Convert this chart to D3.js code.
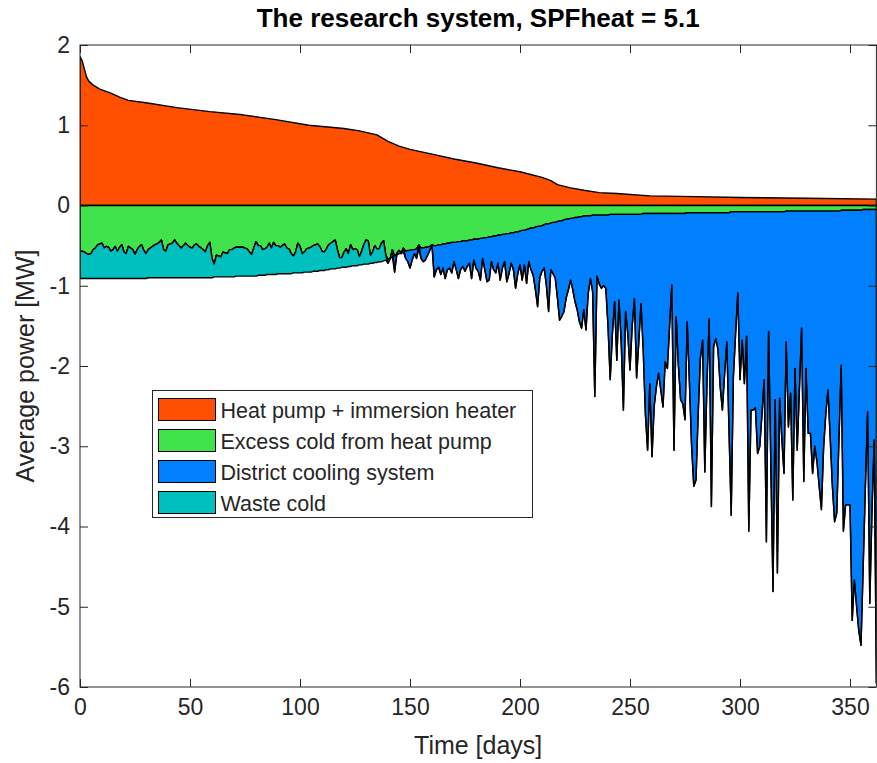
<!DOCTYPE html>
<html>
<head>
<meta charset="utf-8">
<script src="https://cdn.jsdelivr.net/npm/d3@7/dist/d3.min.js"></script>
<style>
	body { margin: 0; background: #fff; }
	text { font-family: "Liberation Sans", Arial, Helvetica, sans-serif; }
</style>
</head>
<body>
<div id="chart01"></div>
<script>
// heat pump + immersion heater (positive, smooth duration curve)
const heatDays = [0, 1, 2, 3, 4, 6, 9, 14, 18, 22, 30, 44, 59, 74, 89, 104, 120, 127, 135, 140, 145, 150, 160, 170, 180, 190, 200, 210, 214, 217, 223, 229, 236, 244, 259, 280, 300, 330, 362];
const heatPower = [1.86, 1.80, 1.70, 1.60, 1.55, 1.50, 1.45, 1.40, 1.35, 1.31, 1.28, 1.22, 1.17, 1.13, 1.07, 1.00, 0.96, 0.93, 0.88, 0.80, 0.74, 0.70, 0.64, 0.58, 0.53, 0.47, 0.42, 0.35, 0.31, 0.26, 0.22, 0.19, 0.16, 0.15, 0.12, 0.11, 0.10, 0.09, 0.08];

// cold delivered by the heat pump, one value per day (MW)
const excessAvailable = [
	0.91, 0.91, 0.91, 0.91, 0.91, 0.91, 0.91, 0.91, 0.91, 0.91,
	0.91, 0.91, 0.91, 0.91, 0.91, 0.91, 0.91, 0.91, 0.91, 0.91,
	0.91, 0.91, 0.91, 0.91, 0.91, 0.91, 0.91, 0.91, 0.91, 0.91,
	0.91, 0.90, 0.90, 0.90, 0.90, 0.90, 0.90, 0.90, 0.90, 0.90,
	0.90, 0.90, 0.90, 0.90, 0.90, 0.90, 0.90, 0.90, 0.90, 0.90,
	0.90, 0.90, 0.90, 0.90, 0.90, 0.90, 0.90, 0.90, 0.90, 0.90,
	0.90, 0.89, 0.89, 0.89, 0.89, 0.89, 0.89, 0.89, 0.89, 0.89,
	0.89, 0.88, 0.88, 0.88, 0.88, 0.88, 0.88, 0.88, 0.88, 0.88,
	0.88, 0.87, 0.87, 0.87, 0.87, 0.86, 0.86, 0.86, 0.86, 0.86,
	0.85, 0.85, 0.85, 0.85, 0.85, 0.85, 0.85, 0.84, 0.84, 0.84,
	0.84, 0.84, 0.83, 0.83, 0.83, 0.83, 0.82, 0.82, 0.82, 0.81,
	0.81, 0.81, 0.80, 0.80, 0.79, 0.79, 0.79, 0.78, 0.78, 0.77,
	0.77, 0.77, 0.76, 0.76, 0.75, 0.75, 0.75, 0.74, 0.74, 0.73,
	0.73, 0.73, 0.72, 0.72, 0.71, 0.71, 0.70, 0.70, 0.69, 0.68,
	0.67, 0.66, 0.64, 0.63, 0.62, 0.60, 0.59, 0.58, 0.57, 0.56,
	0.56, 0.55, 0.55, 0.54, 0.54, 0.53, 0.53, 0.52, 0.52, 0.51,
	0.51, 0.50, 0.50, 0.49, 0.49, 0.48, 0.48, 0.47, 0.47, 0.46,
	0.46, 0.46, 0.45, 0.45, 0.44, 0.44, 0.44, 0.43, 0.43, 0.42,
	0.42, 0.42, 0.41, 0.41, 0.40, 0.40, 0.39, 0.39, 0.38, 0.38,
	0.37, 0.37, 0.36, 0.36, 0.35, 0.35, 0.34, 0.34, 0.33, 0.33,
	0.32, 0.31, 0.31, 0.30, 0.29, 0.28, 0.28, 0.27, 0.26, 0.26,
	0.25, 0.24, 0.23, 0.23, 0.22, 0.21, 0.21, 0.20, 0.19, 0.19,
	0.18, 0.17, 0.17, 0.16, 0.16, 0.15, 0.15, 0.14, 0.14, 0.13,
	0.13, 0.13, 0.13, 0.12, 0.12, 0.12, 0.12, 0.12, 0.12, 0.12,
	0.12, 0.11, 0.11, 0.11, 0.11, 0.11, 0.11, 0.11, 0.11, 0.11,
	0.11, 0.11, 0.11, 0.11, 0.11, 0.11, 0.10, 0.10, 0.10, 0.10,
	0.10, 0.10, 0.10, 0.10, 0.10, 0.10, 0.10, 0.10, 0.10, 0.10,
	0.10, 0.10, 0.10, 0.10, 0.10, 0.10, 0.09, 0.09, 0.09, 0.09,
	0.09, 0.09, 0.09, 0.09, 0.09, 0.09, 0.09, 0.09, 0.09, 0.09,
	0.09, 0.09, 0.09, 0.09, 0.09, 0.09, 0.08, 0.08, 0.08, 0.08,
	0.08, 0.08, 0.08, 0.08, 0.08, 0.08, 0.08, 0.08, 0.08, 0.08,
	0.08, 0.08, 0.08, 0.08, 0.08, 0.08, 0.08, 0.08, 0.08, 0.08,
	0.08, 0.07, 0.07, 0.07, 0.07, 0.07, 0.07, 0.07, 0.07, 0.07,
	0.07, 0.07, 0.07, 0.07, 0.07, 0.07, 0.07, 0.07, 0.07, 0.07,
	0.07, 0.07, 0.07, 0.07, 0.07, 0.07, 0.06, 0.06, 0.06, 0.06,
	0.06, 0.06, 0.06, 0.06, 0.06, 0.06, 0.05, 0.05, 0.05, 0.05,
	0.05, 0.05, 0.05
];

// cooling demand, one value per day (MW)
const coolingDemand = [
	0.57, 0.57, 0.58, 0.60, 0.61, 0.60, 0.55, 0.53, 0.49, 0.48,
	0.47, 0.53, 0.51, 0.52, 0.57, 0.55, 0.51, 0.57, 0.52, 0.49,
	0.58, 0.60, 0.51, 0.53, 0.55, 0.61, 0.55, 0.51, 0.49, 0.56,
	0.60, 0.55, 0.53, 0.51, 0.49, 0.48, 0.46, 0.43, 0.55, 0.57,
	0.49, 0.48, 0.47, 0.43, 0.47, 0.50, 0.53, 0.50, 0.47, 0.50,
	0.52, 0.53, 0.49, 0.48, 0.51, 0.53, 0.55, 0.58, 0.50, 0.46,
	0.66, 0.73, 0.62, 0.63, 0.64, 0.58, 0.59, 0.60, 0.55, 0.55,
	0.53, 0.52, 0.52, 0.52, 0.52, 0.53, 0.54, 0.58, 0.61, 0.53,
	0.45, 0.50, 0.50, 0.55, 0.54, 0.52, 0.47, 0.53, 0.46, 0.50,
	0.50, 0.52, 0.50, 0.48, 0.53, 0.54, 0.60, 0.63, 0.58, 0.47,
	0.51, 0.60, 0.58, 0.54, 0.53, 0.52, 0.50, 0.49, 0.48, 0.51,
	0.57, 0.58, 0.54, 0.49, 0.47, 0.45, 0.43, 0.55, 0.65, 0.65,
	0.58, 0.54, 0.60, 0.49, 0.55, 0.54, 0.55, 0.64, 0.57, 0.49,
	0.43, 0.44, 0.62, 0.58, 0.50, 0.54, 0.54, 0.47, 0.44, 0.62,
	0.72, 0.66, 0.55, 0.83, 0.60, 0.56, 0.60, 0.53, 0.66, 0.70,
	0.78, 0.68, 0.60, 0.66, 0.49, 0.66, 0.70, 0.68, 0.62, 0.56,
	0.49, 0.89, 0.80, 0.77, 0.86, 0.78, 0.91, 0.80, 0.78, 0.84,
	0.70, 0.80, 0.91, 0.80, 0.76, 0.82, 0.76, 0.72, 0.91, 0.68,
	0.78, 0.82, 0.93, 0.66, 0.80, 0.95, 0.93, 0.70, 0.80, 0.84,
	0.72, 0.93, 0.78, 0.70, 0.95, 0.85, 0.72, 0.80, 1.03, 0.85,
	0.74, 0.93, 0.74, 0.97, 0.70, 0.80, 0.87, 1.05, 1.26, 0.90,
	0.82, 0.78, 1.00, 1.32, 0.80, 0.85, 0.90, 1.15, 1.43, 1.38,
	1.32, 1.15, 1.05, 0.93, 1.05, 1.20, 1.30, 1.45, 1.53, 1.30,
	1.55, 1.10, 0.91, 1.07, 2.38, 0.88, 0.98, 1.03, 1.00, 1.03,
	1.50, 2.17, 1.60, 1.20, 1.93, 1.18, 1.70, 2.55, 1.32, 1.60,
	2.05, 1.50, 1.16, 2.15, 1.70, 1.22, 1.80, 2.60, 3.05, 2.22,
	3.13, 2.50, 2.26, 2.09, 2.30, 2.51, 1.95, 2.03, 1.50, 0.99,
	3.05, 1.39, 2.00, 2.42, 2.47, 2.67, 1.45, 2.20, 3.00, 3.50,
	3.42, 2.60, 1.90, 1.68, 3.32, 2.20, 1.41, 3.75, 1.76, 1.66,
	1.80, 2.26, 2.55, 2.10, 1.70, 2.80, 3.86, 2.13, 1.60, 1.09,
	2.17, 1.68, 2.22, 1.63, 4.06, 2.55, 2.55, 2.52, 3.09, 3.00,
	2.60, 2.17, 4.19, 1.57, 3.20, 4.81, 2.42, 4.58, 2.40, 2.90,
	3.34, 1.70, 2.76, 2.34, 3.67, 2.03, 3.05, 2.30, 1.53, 3.44,
	2.03, 2.84, 2.84, 3.34, 3.00, 3.20, 3.50, 3.79, 3.02, 2.60,
	2.30, 2.90, 3.50, 3.94, 3.83, 2.90, 1.99, 4.06, 3.73, 3.73,
	3.73, 5.17, 4.67, 5.00, 5.30, 5.48, 4.50, 3.50, 2.57, 4.96,
	3.80, 2.92, 5.95
];

const xTicks = [0, 50, 100, 150, 200, 250, 300, 350];
const yTicks = [-6, -5, -4, -3, -2, -1, 0, 1, 2];
const seriesNames = ["Heat pump + immersion heater", "Excess cold from heat pump", "District cooling system", "Waste cold"];
const seriesColors = ["#ff4f00", "#41e34c", "#0080ff", "#00bfbf"];
const titleText = "The research system, SPFheat = 5.1";

var width = 877;
var height = 763;
var margin = { top: 45, right: 0.6, bottom: 76, left: 80 };
var axisColor = "#262626";
var edgeWidth = 1.4;

var svg = d3.select("#chart01").append("svg").attr("width", width).attr("height", height);

var days = d3.range(coolingDemand.length);
var x = d3.scaleLinear().domain([0, 362]).range([margin.left, width - margin.right]);
var y = d3.scaleLinear().domain([-6, 2]).range([height - margin.bottom, margin.top]);

// split the cold side the way the plot stacks it
var rows = days.map((d, i) => ({
	day: d,
	excess: -Math.min(excessAvailable[i], coolingDemand[i]),
	district: -Math.max(coolingDemand[i] - excessAvailable[i], 0),
	waste: -Math.max(excessAvailable[i] - coolingDemand[i], 0),
}));
var stacked = d3.stack().keys(["excess", "district", "waste"])(rows);

svg.append("defs").append("clipPath").attr("id", "plotclip")
	.append("rect")
	.attr("x", x(0)).attr("y", y(2))
	.attr("width", x(362) - x(0)).attr("height", y(-6) - y(2));

var plot = svg.append("g").attr("clip-path", "url(#plotclip)");

// heat area
var heatData = heatDays.map((d, i) => ({ day: d, value: heatPower[i] }));
plot.append("path")
	.datum(heatData)
	.attr("d", d3.area().x((d) => x(d.day)).y0(y(0)).y1((d) => y(d.value)))
	.attr("fill", seriesColors[0])
	.attr("stroke", "#000")
	.attr("stroke-width", edgeWidth)
	.attr("stroke-linejoin", "round");

var coldArea = d3.area()
	.x((d) => x(d.data.day))
	.y0((d) => y(d[0]))
	.y1((d) => y(d[1]));

stacked.forEach((s, i) => {
	plot.append("path")
		.datum(s)
		.attr("d", coldArea)
		.attr("fill", seriesColors[i + 1])
		.attr("stroke", "#000")
		.attr("stroke-width", edgeWidth)
		.attr("stroke-linejoin", "round");
});

// axes, MATLAB style: ticks pointing inwards on all four sides
var tickLen = 8;
svg.append("g")
	.attr("transform", `translate(0,${y(-6)})`)
	.call(d3.axisBottom(x).tickValues(xTicks).tickSizeInner(-tickLen).tickSizeOuter(0).tickPadding(12))
	.call((g) => g.select(".domain").remove())
	.call((g) => g.selectAll("line").attr("stroke", axisColor))
	.call((g) => g.selectAll("text").attr("fill", axisColor).attr("font-size", "23px").style("font-family", "Liberation Sans, Arial, sans-serif"));

svg.append("g")
	.attr("transform", `translate(${x(0)},0)`)
	.call(d3.axisLeft(y).tickValues(yTicks).tickFormat(d3.format("d")).tickSizeInner(-tickLen).tickSizeOuter(0).tickPadding(10))
	.call((g) => g.select(".domain").remove())
	.call((g) => g.selectAll("line").attr("stroke", axisColor))
	.call((g) => g.selectAll("text").attr("fill", axisColor).attr("font-size", "23px").style("font-family", "Liberation Sans, Arial, sans-serif").text((d) => String(d).replace("\u2212", "-")));

svg.append("g")
	.attr("transform", `translate(0,${y(2)})`)
	.call(d3.axisTop(x).tickValues(xTicks).tickSizeInner(-tickLen).tickSizeOuter(0).tickFormat(""))
	.call((g) => g.select(".domain").remove())
	.call((g) => g.selectAll("line").attr("stroke", axisColor));

svg.append("g")
	.attr("transform", `translate(${x(362)},0)`)
	.call(d3.axisRight(y).tickValues(yTicks).tickSizeInner(-tickLen).tickSizeOuter(0).tickFormat(""))
	.call((g) => g.select(".domain").remove())
	.call((g) => g.selectAll("line").attr("stroke", axisColor));

// box
svg.append("rect")
	.attr("x", x(0))
	.attr("y", y(2))
	.attr("width", x(362) - x(0))
	.attr("height", y(-6) - y(2))
	.attr("fill", "none")
	.attr("stroke", axisColor)
	.attr("stroke-width", 1);

// title and labels
svg.append("text")
	.attr("x", (x(0) + x(362)) / 2)
	.attr("y", 27)
	.attr("text-anchor", "middle")
	.attr("font-size", "26px")
	.attr("font-weight", "bold")
	.attr("fill", "#000")
	.text(titleText);

svg.append("text")
	.attr("x", (x(0) + x(362)) / 2)
	.attr("y", 754)
	.attr("text-anchor", "middle")
	.attr("font-size", "25px")
	.attr("fill", axisColor)
	.text("Time [days]");

svg.append("text")
	.attr("transform", "rotate(-90)")
	.attr("x", -(y(2) + y(-6)) / 2)
	.attr("y", 34)
	.attr("text-anchor", "middle")
	.attr("font-size", "25px")
	.attr("fill", axisColor)
	.text("Average power [MW]");

// legend
var legend = svg.append("g").attr("transform", "translate(152.5,390.5)");
legend.append("rect")
	.attr("width", 380)
	.attr("height", 127)
	.attr("fill", "#fff")
	.attr("stroke", axisColor)
	.attr("stroke-width", 1);

seriesNames.forEach((name, index) => {
	var row = legend.append("g").attr("transform", `translate(0,${8 + index * 31})`);
	row.append("rect")
		.attr("x", 6)
		.attr("y", 0)
		.attr("width", 57)
		.attr("height", 22)
		.attr("fill", seriesColors[index])
		.attr("stroke", "#000")
		.attr("stroke-width", 1);
	row.append("text")
		.attr("x", 68)
		.attr("y", 19)
		.attr("font-size", "21.5px")
		.attr("fill", axisColor)
		.text(name);
});
</script>
</body>
</html>
